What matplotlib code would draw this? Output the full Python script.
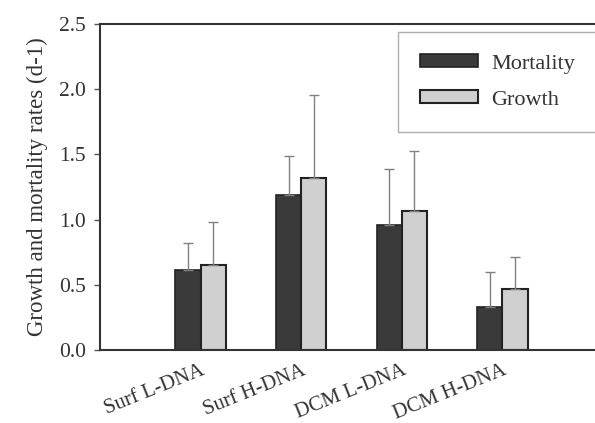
import numpy as np
import matplotlib
matplotlib.use('Agg')
import matplotlib.pyplot as plt

plt.rcParams['font.family'] = ['Liberation Serif', 'DejaVu Serif']

categories = ['Surf L-DNA', 'Surf H-DNA', 'DCM L-DNA', 'DCM H-DNA']
mortality = [0.61, 1.19, 0.96, 0.33]
mortality_err = [0.21, 0.30, 0.43, 0.27]
growth = [0.65, 1.32, 1.07, 0.47]
growth_err = [0.33, 0.64, 0.46, 0.24]

x = np.arange(len(categories))
w = 0.25

fig = plt.figure(figsize=(5.95, 4.23), dpi=100)
ax = fig.add_axes([0.168, 0.1726, 0.832, 0.7704])

err_kw = dict(ecolor='#808080', elinewidth=1.0, capsize=3.5, capthick=1.0)
ax.bar(x - w / 2, mortality, w, color='#3a3a3a', edgecolor='#222222', linewidth=1.2,
       yerr=[np.zeros(4), mortality_err], error_kw=err_kw, label='Mortality')
ax.bar(x + w / 2, growth, w, color='#d0d0d0', edgecolor='#222222', linewidth=1.5,
       yerr=[np.zeros(4), growth_err], error_kw=err_kw, label='Growth')

ax.set_xlim(-1.0, 3.92)
ax.set_ylim(0, 2.5)
ax.set_yticks([0.0, 0.5, 1.0, 1.5, 2.0, 2.5])
ax.set_yticklabels(['0.0', '0.5', '1.0', '1.5', '2.0', '2.5'], fontsize=15.5, color='#333333')
ax.set_xticks(x)
ax.set_xticklabels(categories, rotation=22, ha='right', va='top', rotation_mode='anchor',
                   fontsize=15, color='#333333')
ax.tick_params(axis='x', length=0, pad=8)
ax.tick_params(axis='y', direction='out', length=4, width=1, color='#555555', pad=6)
ax.set_ylabel('Growth and mortality rates (d-1)', fontsize=16.5, color='#333333', labelpad=8)

ax.spines['right'].set_visible(False)
for s in ['left', 'bottom', 'top']:
    ax.spines[s].set_linewidth(1.5)
    ax.spines[s].set_color('#333333')

leg = ax.legend(loc='upper left', bbox_to_anchor=(0.602, 0.975), borderaxespad=0,
                fontsize=16, frameon=True, fancybox=False, edgecolor='#999999',
                handlelength=2.6, handleheight=0.5, borderpad=1.0, labelspacing=0.75,
                handletextpad=0.6)
leg.get_frame().set_linewidth(1.0)
for t in leg.get_texts():
    t.set_color('#333333')

fig.savefig('out.png', dpi=100)
